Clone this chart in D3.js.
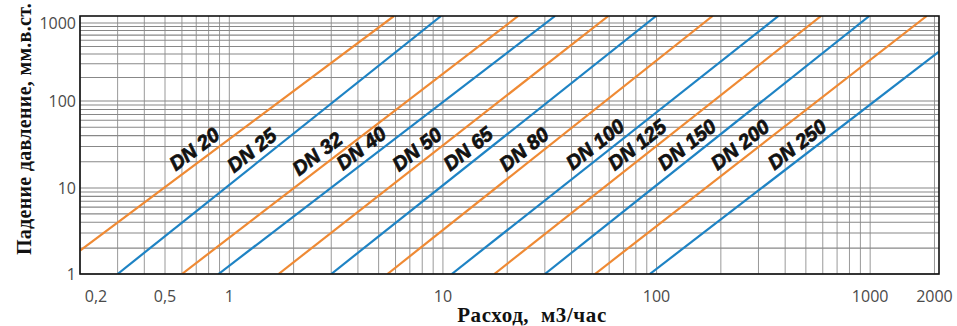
<!DOCTYPE html>
<html>
<head>
<meta charset="utf-8">
<script src="https://cdn.jsdelivr.net/npm/d3@7"></script>
<style>
    body { margin: 0; background: #fff; }
    svg { display: block; }
</style>
</head>
<body>
<div id="chart"></div>
<script>
// pipe sizes, alternating orange / blue
const sizes = ["DN 20", "DN 25", "DN 32", "DN 40", "DN 50", "DN 65",
               "DN 80", "DN 100", "DN 125", "DN 150", "DN 200", "DN 250"];

const flowFrom = [0.2, 0.30, 0.60, 0.89, 1.7, 3.0, 5.5, 11, 17.4, 30, 51.5, 93];
const dropFrom = [1.87, 1, 1, 1, 1, 1, 1, 1, 1, 1, 1, 1];
const flowTo = [5.9, 9.8, 22.5, 33.5, 59.5, 99.5, 183, 372, 589, 991, 1840, 2100];
const dropTo = [1220, 1220, 1220, 1220, 1220, 1220, 1220, 1220, 1220, 1220, 1220, 429];

// flow where each DN label sits on its line
const labelFlow = [0.745, 1.39, 2.81, 4.51, 8.24, 14.3, 26.1, 56.2, 88.3, 151, 268, 495];

const flowTicks = [0.2, 0.5, 1, 10, 100, 1000, 2000];
const flowTickText = ["0,2", "0,5", "1", "10", "100", "1000", "2000"];
const dropTicks = [1, 10, 100, 1000];

let w = 957;
let h = 326;
let padL = 80, padR = 939, padT = 16, padB = 274;

let x = d3.scaleLog().domain([0.2, 2100]).range([padL, padR]);
let y = d3.scaleLog().domain([1, 10, 100, 1000, 1220]).range([padB, 188, 101, 23, padT]);

let svg = d3.select("#chart")
    .append("svg")
    .attr("width", w)
    .attr("height", h);

svg.append("clipPath")
    .attr("id", "plot")
    .append("rect")
    .attr("x", padL)
    .attr("y", padT)
    .attr("width", padR - padL)
    .attr("height", padB - padT);

// grid
svg.append("g")
    .selectAll("line")
    .data(x.ticks())
    .enter()
    .append("line")
    .attr("x1", d => x(d))
    .attr("x2", d => x(d))
    .attr("y1", padT)
    .attr("y2", padB)
    .attr("stroke", "#999")
    .attr("stroke-width", 1);

svg.append("g")
    .selectAll("line")
    .data(y.ticks())
    .enter()
    .append("line")
    .attr("x1", padL)
    .attr("x2", padR)
    .attr("y1", d => y(d))
    .attr("y2", d => y(d))
    .attr("stroke", "#888")
    .attr("stroke-width", 1.1);

// lines
let line = d3.line()
    .x(d => x(d[0]))
    .y(d => y(d[1]));

svg.append("g")
    .attr("clip-path", "url(#plot)")
    .selectAll("path")
    .data(sizes)
    .enter()
    .append("path")
    .attr("d", (d, i) => line([[flowFrom[i], dropFrom[i]], [flowTo[i], dropTo[i]]]))
    .attr("fill", "none")
    .attr("stroke", (d, i) => i % 2 === 0 ? "#ef8a34" : "#1e83c4")
    .attr("stroke-width", 2.2);

// DN labels along the lines
svg.append("g")
    .selectAll("text")
    .data(sizes)
    .enter()
    .append("text")
    .text(d => d)
    .attr("transform", function (d, i) {
        let x0 = x(flowFrom[i]), y0 = y(dropFrom[i]);
        let x1 = x(flowTo[i]), y1 = y(dropTo[i]);
        let lx = x(labelFlow[i]);
        let ly = y0 + (lx - x0) / (x1 - x0) * (y1 - y0);
        let angle = Math.atan2(y1 - y0, x1 - x0) * 180 / Math.PI;
        return "translate(" + lx + "," + ly + ") rotate(" + angle + ")";
    })
    .attr("y", -6)
    .attr("text-anchor", "middle")
    .attr("font-family", "Liberation Sans, Arial, sans-serif")
    .attr("font-weight", "bold")
    .attr("font-style", "italic")
    .attr("font-size", "20px")
    .attr("fill", "#111")
    .attr("stroke", "#111")
    .attr("stroke-width", 0.7);

// frame
svg.append("rect")
    .attr("x", padL)
    .attr("y", padT)
    .attr("width", padR - padL)
    .attr("height", padB - padT)
    .attr("fill", "none")
    .attr("stroke", "#111")
    .attr("stroke-width", 1.6);

// tick labels
svg.append("g")
    .selectAll("text")
    .data(flowTicks)
    .enter()
    .append("text")
    .text((d, i) => flowTickText[i])
    .attr("x", d => x(d))
    .attr("dx", (d, i) => i === 0 ? 16 : 0)
    .attr("y", 302)
    .attr("text-anchor", "middle")
    .attr("font-family", "Open Sans, sans-serif")
    .attr("font-size", "16px")
    .attr("fill", "#4a4a4a");

svg.append("g")
    .selectAll("text")
    .data(dropTicks)
    .enter()
    .append("text")
    .text(d => d)
    .attr("x", padL - 4)
    .attr("y", d => y(d))
    .attr("dy", "0.35em")
    .attr("text-anchor", "end")
    .attr("font-family", "Open Sans, sans-serif")
    .attr("font-size", "16px")
    .attr("fill", "#4a4a4a");

// axis titles
svg.append("text")
    .text("Расход,  м3/час")
    .attr("x", 532)
    .attr("y", 322)
    .attr("text-anchor", "middle")
    .style("white-space", "pre")
    .attr("letter-spacing", 0.6)
    .attr("font-family", "Liberation Serif, Times New Roman, serif")
    .attr("font-weight", "bold")
    .attr("font-size", "21px")
    .attr("fill", "#111");

svg.append("text")
    .text("Падение давление, мм.в.ст.")
    .attr("transform", "translate(31,129) rotate(-90)")
    .attr("text-anchor", "middle")
    .attr("letter-spacing", 0.3)
    .attr("font-family", "Liberation Serif, Times New Roman, serif")
    .attr("font-weight", "bold")
    .attr("font-size", "20px")
    .attr("fill", "#111");
</script>
</body>
</html>
